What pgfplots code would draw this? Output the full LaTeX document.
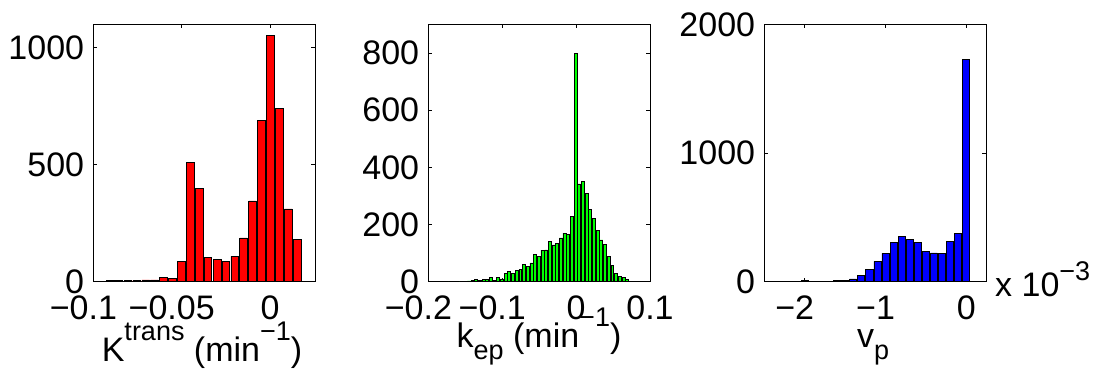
\documentclass[border=0pt]{standalone}
\usepackage{fontspec}
\setmainfont{Liberation Sans}
\usepackage{pgfplots}
\pgfplotsset{compat=1.18}

\newcommand{\sups}[2][21bp]{\raisebox{#1}{\fontsize{27bp}{27bp}\selectfont #2}}
\newcommand{\subs}[2][-12bp]{\raisebox{#1}{\fontsize{27bp}{27bp}\selectfont #2}}

\pgfplotsset{
  mystyle/.style={
    scale only axis, width=221.7bp, height=257.4bp, anchor=south west,
    axis line style={line width=0.9bp, black},
    tick align=inside, major tick length=4bp,
    every tick/.style={line width=0.8bp, black},
    ticklabel style={font=\fontsize{34bp}{34bp}\selectfont},
    xticklabel style={anchor=north, inner sep=0pt, yshift=-14bp},
    yticklabel style={anchor=east, inner sep=0pt, xshift=-9bp},
    ymin=0,
  }
}

\pgfplotstableread{
x y
-0.0905 7
-0.0855 7
-0.0804 4
-0.0754 7
-0.0703 8
-0.0653 8
-0.0602 17
-0.0552 14
-0.0502 88
-0.0451 511
-0.0401 399
-0.0351 105
-0.0300 97
-0.0250 88
-0.0199 108
-0.0149 187
-0.0098 345
-0.0048 691
0.0002 1054
0.0053 741
0.0103 311
0.0154 181
0.0204 2
}\ktrans

\pgfplotstableread{
x y
-0.18008 1
-0.17012 1
-0.16514 1
-0.15518 2
-0.15020 2
-0.14522 3
-0.14024 5
-0.13526 8
-0.13028 5
-0.12530 7
-0.12032 7
-0.11534 14
-0.11036 5
-0.10538 16
-0.10040 10
-0.09542 29
-0.09044 37
-0.08546 30
-0.08048 39
-0.07550 42
-0.07052 61
-0.06554 54
-0.06056 66
-0.05558 95
-0.05060 89
-0.04562 110
-0.04064 111
-0.03566 141
-0.03068 129
-0.02570 135
-0.02072 153
-0.01574 170
-0.01076 165
-0.00578 227
-0.00080 799
0.00418 342
0.00916 351
0.01414 309
0.01912 254
0.02410 221
0.02908 178
0.03406 146
0.03904 131
0.04402 89
0.04900 57
0.05398 28
0.05896 18
0.06394 15
0.06892 7
0.07390 2
}\kep

\pgfplotstableread{
x y
-2.0 13
-1.6 13
-1.5 10
-1.4 21
-1.3 49
-1.2 93
-1.1 158
-1.0 220
-0.9 308
-0.8 355
-0.7 329
-0.6 303
-0.5 238
-0.4 223
-0.3 220
-0.2 316
-0.1 378
0.0 1730
}\vp

\begin{document}
\begin{tikzpicture}
\useasboundingbox (0,0) rectangle (1095bp,371bp);

\begin{axis}[mystyle, at={(93.3bp,89.3bp)},
  xmin=-0.1, xmax=0.0255, ymax=1100,
  xtick={-0.1,-0.05,0}, xticklabels={\llap{−}0.1,\llap{−}0.05,0},
  ytick={0,500,1000}, yticklabels={0,500,1000}]
\addplot[ybar, bar width=0.00436, bar shift=0pt, fill=red, draw=black, line width=0.6bp] table[x=x,y=y] {\ktrans};
\end{axis}

\begin{axis}[mystyle, at={(428.3bp,89.3bp)},
  xmin=-0.2, xmax=0.1, ymax=900,
  xtick={-0.2,-0.1,0,0.1}, xticklabels={\llap{−}0.2,\llap{−}0.1,0,0.1},
  ytick={0,200,400,600,800}, yticklabels={0,200,400,600,800}]
\addplot[ybar, bar width=0.004, bar shift=0pt, fill={rgb,1:red,0;green,1;blue,0}, draw=black, line width=0.6bp] table[x=x,y=y] {\kep};
\end{axis}

\begin{axis}[mystyle, at={(764.3bp,89.3bp)},
  xmin=-2.5, xmax=0.245, ymax=2000,
  xtick={-2,-1,0}, xticklabels={\llap{−}2,\llap{−}1,0},
  ytick={0,1000,2000}, yticklabels={0,1000,2000}]
\addplot[ybar, bar width=0.087, bar shift=0pt, fill={rgb,1:red,0;green,0;blue,1}, draw=black, line width=0.6bp] table[x=x,y=y] {\vp};
\end{axis}

\node[anchor=base, inner sep=0pt, font=\fontsize{34bp}{34bp}\selectfont] at (202bp,10bp) {K\sups{trans} (min\sups{−1})};
\node[anchor=base, inner sep=0pt, font=\fontsize{34bp}{34bp}\selectfont] at (539bp,24bp) {k\subs{ep} (min\sups{−1})};
\node[anchor=base, inner sep=0pt, font=\fontsize{34bp}{34bp}\selectfont] at (873bp,24bp) {v\subs{p}};
\node[anchor=base west, inner sep=0pt, font=\fontsize{34bp}{34bp}\selectfont] at (995bp,74bp) {x 10\sups[16bp]{−3}};
\end{tikzpicture}
\end{document}
